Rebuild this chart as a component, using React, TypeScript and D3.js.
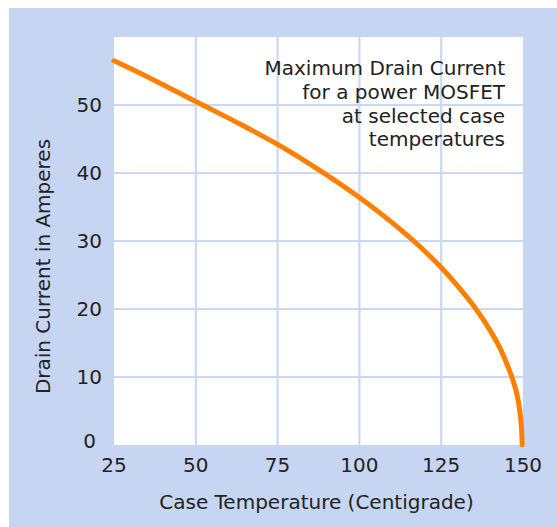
// App.tsx
import React from 'react';
import * as d3 from 'd3';

// case temperature (°C) and max drain current (A)
const temperatures = [25, 35, 50, 62.5, 75, 87.5, 100, 110, 120, 125, 130, 135, 140, 143, 145.5, 147, 148.5, 149.2, 149.6, 149.75];
const currents = [56.5, 54.2, 50.5, 47.45, 44.2, 40.5, 36.4, 32.7, 28.5, 26.1, 23.4, 20.4, 16.8, 14.2, 11.4, 9.4, 6.6, 4.3, 2.0, 0];

const xTicks = [25, 50, 75, 100, 125, 150];
const yTicks = [0, 10, 20, 30, 40, 50];
const noteLines = ['Maximum Drain Current', 'for a power MOSFET', 'at selected case', 'temperatures'];

const App: React.FC = () => {
    const width = 557;
    const height = 527;
    const plot = { left: 114, right: 523, top: 37, bottom: 445 };
    const font = '"DejaVu Sans", sans-serif';
    const fs = 20;

    const x = d3.scaleLinear().domain([25, 150]).range([plot.left, plot.right]);
    const y = d3.scaleLinear().domain([0, 60]).range([plot.bottom, plot.top]);

    const data = temperatures.map((t, i) => ({ t, a: currents[i] }));
    const line = d3.line<{ t: number; a: number }>()
        .x(d => x(d.t))
        .y(d => y(d.a))
        .curve(d3.curveMonotoneX);

    return (
        <svg width={width} height={height}
            style={{ position: 'absolute', left: 0, top: 0, display: 'block' }}>
            <rect x={9} y={8} width={width - 9} height={height - 8} fill="#c6d6f2" />
            <rect x={plot.left} y={plot.top} width={plot.right - plot.left} height={plot.bottom - plot.top} fill="#ffffff" />

            {/* grid */}
            {xTicks.slice(1, -1).map(t => (
                <line key={'gx' + t} x1={x(t)} x2={x(t)} y1={plot.top} y2={plot.bottom}
                    stroke="#c9d9f4" strokeWidth={2.2} />
            ))}
            {yTicks.slice(1).map(t => (
                <line key={'gy' + t} x1={plot.left} x2={plot.right} y1={y(t)} y2={y(t)}
                    stroke="#c9d9f4" strokeWidth={2.2} />
            ))}

            <path d={line(data) || ''} fill="none" stroke="#ff8000" strokeWidth={5} strokeLinecap="round" />

            {/* tick labels */}
            {yTicks.map(t => (
                <text key={'yl' + t} x={t === 0 ? 96 : 102} y={t === 0 ? y(t) - 4 : y(t)} dy="0.36em"
                    textAnchor="end" fontFamily={font} fontSize={fs} fill="#222">{t}</text>
            ))}
            {xTicks.map(t => (
                <text key={'xl' + t} x={x(t)} y={464.5} dy="0.36em"
                    textAnchor="middle" fontFamily={font} fontSize={fs} fill="#222">{t}</text>
            ))}

            {/* axis titles */}
            <text x={(plot.left + plot.right) / 2 - 2} y={508.5} textAnchor="middle"
                fontFamily={font} fontSize={fs} fill="#222">Case Temperature (Centigrade)</text>
            <text transform="translate(50,266.5) rotate(-90)" textAnchor="middle"
                fontFamily={font} fontSize={fs} fill="#222">Drain Current in Amperes</text>

            {/* note */}
            {noteLines.map((s, i) => (
                <text key={'n' + i} x={505} y={68 + i * 23.7} dy="0.36em" textAnchor="end"
                    fontFamily={font} fontSize={fs} fill="#222">{s}</text>
            ))}
        </svg>
    );
};

export default App;
